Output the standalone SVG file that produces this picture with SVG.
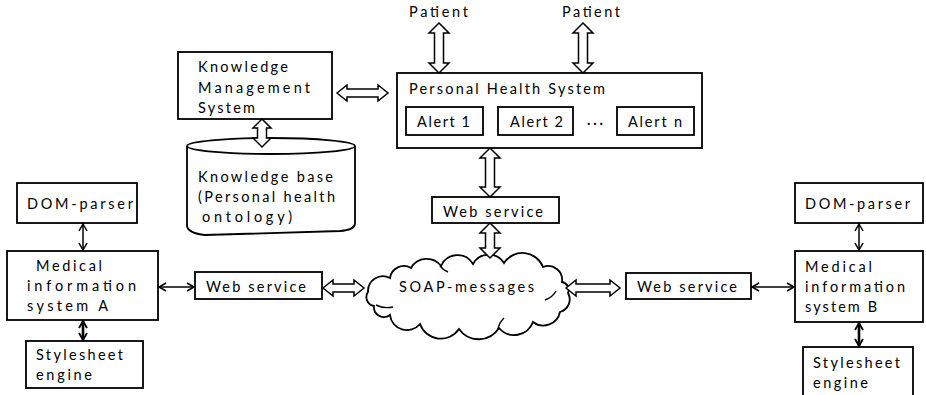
<svg xmlns="http://www.w3.org/2000/svg" width="926" height="395" viewBox="0 0 926 395">
  <style>
    .box { fill: #fff; stroke: #000; stroke-width: 1.8; }
    .txt { font-family: Lato, "Liberation Sans", sans-serif; font-size: 14.5px; fill: #000; }
    .hollow { fill: #fff; stroke: #000; stroke-width: 1.5; stroke-linejoin: miter; }
    .thin { fill: none; stroke: #000; stroke-width: 1.5; marker-start: url(#vhead); marker-end: url(#vhead); }
    .thick { fill: none; stroke: #000; stroke-width: 2.6; marker-start: url(#vhead2); marker-end: url(#vhead2); }
    .shape { fill: #fff; stroke: #000; stroke-width: 1.8; }
    .inner { fill: none; stroke: #000; stroke-width: 1.4; }
  </style>
  <defs>
    <marker id="vhead" markerWidth="10" markerHeight="10" refX="8" refY="5" orient="auto-start-reverse" markerUnits="userSpaceOnUse">
      <path d="M1,1 L8,5 L1,9" fill="none" stroke="#000" stroke-width="1.5"/>
    </marker>
    <marker id="vhead2" markerWidth="10" markerHeight="10" refX="8" refY="5" orient="auto-start-reverse" markerUnits="userSpaceOnUse">
      <path d="M1,1 L8,5 L1,9" fill="none" stroke="#000" stroke-width="1.8"/>
    </marker>
  </defs>

  <!-- patients -->
  <g id="patient1">
    <text class="txt" x="409" y="17" textLength="59" lengthAdjust="spacing">Patient</text>
  </g>
  <g id="patient2">
    <text class="txt" x="562" y="17" textLength="58" lengthAdjust="spacing">Patient</text>
  </g>

  <!-- knowledge management system -->
  <g id="kms">
    <rect class="box" x="178" y="52" width="154" height="67"/>
    <text class="txt" x="198" y="72" textLength="90" lengthAdjust="spacing">Knowledge</text>
    <text class="txt" x="198" y="93" textLength="112" lengthAdjust="spacing">Management</text>
    <text class="txt" x="198" y="113" textLength="57" lengthAdjust="spacing">System</text>
  </g>

  <!-- personal health system with alerts -->
  <g id="phs">
    <rect class="box" x="397" y="73" width="305" height="75"/>
    <text class="txt" x="409" y="94" textLength="196" lengthAdjust="spacing">Personal Health System</text>
    <rect class="box" x="406" y="107" width="77" height="28"/>
    <text class="txt" x="417" y="127" textLength="53" lengthAdjust="spacing">Alert 1</text>
    <rect class="box" x="498" y="107" width="75" height="28"/>
    <text class="txt" x="510" y="127" textLength="53" lengthAdjust="spacing">Alert 2</text>
    <text class="txt" x="587" y="125" textLength="16" lengthAdjust="spacing" font-weight="bold">...</text>
    <rect class="box" x="617" y="107" width="77" height="28"/>
    <text class="txt" x="628" y="127" textLength="54" lengthAdjust="spacing">Alert n</text>
  </g>

  <!-- knowledge base cylinder -->
  <g id="knowledge-base">
    <path class="shape" d="M187,146 L187,226 Q188,233 205,235 L340,231 Q354,230 355,224 L355,146"/>
    <ellipse class="shape" cx="271" cy="146" rx="84" ry="8"/>
    <text class="txt" x="198" y="182" textLength="135" lengthAdjust="spacing">Knowledge base</text>
    <text class="txt" x="198" y="202" textLength="137" lengthAdjust="spacing">(Personal health</text>
    <text class="txt" x="202" y="222" textLength="90" lengthAdjust="spacing">ontology)</text>
  </g>

  <!-- central web service -->
  <g id="ws-center">
    <rect class="box" x="432" y="197" width="127" height="26"/>
    <text class="txt" x="443" y="217" textLength="100" lengthAdjust="spacing">Web service</text>
  </g>

  <!-- SOAP cloud -->
  <g id="soap-cloud">
    <path class="shape" d="M368,292 A15,15 0 0 1 390,278 A14,14 0 0 1 411,268 A18,18 0 0 1 441,266 A18,18 0 0 1 473,264 A18,18 0 0 1 504,263 A22,22 0 0 1 543,267 A14,14 0 0 1 562,282 A8,8 0 0 1 568,293 A13,13 0 0 1 560,312 A17,17 0 0 1 533,322 A20,20 0 0 1 499,328 A24,24 0 0 1 459,329 A22,22 0 0 1 420,324 A17,17 0 0 1 390,315 A10,10 0 0 1 374,306 A9,9 0 0 1 368,292 Z"/>
    <path class="inner" d="M376,305 Q384,309 393,307"/>
    <path class="inner" d="M545,300 Q553,297 556,291"/>
    <path class="inner" d="M440,266 Q443,270 448,272"/>
    <path class="inner" d="M498,329 Q499,323 504,318"/>
    <text class="txt" x="399" y="292" textLength="135" lengthAdjust="spacing">SOAP-messages</text>
  </g>

  <!-- left side: system A -->
  <g id="dom-a">
    <rect class="box" x="17" y="183" width="120" height="40"/>
    <text class="txt" x="27" y="209" textLength="106" lengthAdjust="spacing">DOM-parser</text>
  </g>
  <g id="mis-a">
    <rect class="box" x="7" y="251" width="151" height="69"/>
    <text class="txt" x="36" y="271" textLength="66" lengthAdjust="spacing">Medical</text>
    <text class="txt" x="27" y="291" textLength="109" lengthAdjust="spacing">information</text>
    <text class="txt" x="27" y="311" textLength="81" lengthAdjust="spacing">system A</text>
  </g>
  <g id="ws-a">
    <rect class="box" x="195" y="272" width="127" height="27"/>
    <text class="txt" x="206" y="292" textLength="100" lengthAdjust="spacing">Web service</text>
  </g>
  <g id="style-a">
    <rect class="box" x="26" y="341" width="117" height="47"/>
    <text class="txt" x="36" y="360" textLength="87" lengthAdjust="spacing">Stylesheet</text>
    <text class="txt" x="36" y="380" textLength="56" lengthAdjust="spacing">engine</text>
  </g>

  <!-- right side: system B -->
  <g id="ws-b">
    <rect class="box" x="626" y="273" width="125" height="26"/>
    <text class="txt" x="637" y="292" textLength="100" lengthAdjust="spacing">Web service</text>
  </g>
  <g id="dom-b">
    <rect class="box" x="795" y="183" width="128" height="40"/>
    <text class="txt" x="805" y="209" textLength="105" lengthAdjust="spacing">DOM-parser</text>
  </g>
  <g id="mis-b">
    <rect class="box" x="795" y="251" width="128" height="71"/>
    <text class="txt" x="805" y="272" textLength="67" lengthAdjust="spacing">Medical</text>
    <text class="txt" x="805" y="292" textLength="100" lengthAdjust="spacing">information</text>
    <text class="txt" x="805" y="312" textLength="72" lengthAdjust="spacing">system B</text>
  </g>
  <g id="style-b">
    <rect class="box" x="803" y="347" width="110" height="60"/>
    <text class="txt" x="813" y="368" textLength="87" lengthAdjust="spacing">Stylesheet</text>
    <text class="txt" x="813" y="388" textLength="55" lengthAdjust="spacing">engine</text>
  </g>

  <!-- connectors -->
  <g id="connectors">
    <!-- hollow block double arrows (vertical) -->
    <polygon class="hollow" points="439,23 449,33 443.5,33 443.5,63 449,63 439,73 429,63 434.5,63 434.5,33 429,33"/>
    <polygon class="hollow" points="583,23 593,33 587.5,33 587.5,63 593,63 583,73 573,63 578.5,63 578.5,33 573,33"/>
    <polygon class="hollow" points="262,119 271,128 266.5,128 266.5,138 271,138 262,147 253,138 257.5,138 257.5,128 253,128"/>
    <polygon class="hollow" points="490,148 500,158 494.5,158 494.5,187 500,187 490,197 480,187 485.5,187 485.5,158 480,158"/>
    <polygon class="hollow" points="490,223 500,233 494.5,233 494.5,248 500,248 490,258 480,248 485.5,248 485.5,233 480,233"/>
    <!-- hollow block double arrows (horizontal) -->
    <polygon class="hollow" points="337,93 347,85 347,89 378,89 378,85 388,93 378,101 378,97 347,97 347,101"/>
    <polygon class="hollow" points="323,288 333,280 333,284 354,284 354,280 364,288 354,296 354,292 333,292 333,296"/>
    <polygon class="hollow" points="566,288 576,280 576,284 610,284 610,280 620,288 610,296 610,292 576,292 576,296"/>
    <!-- thin double arrows -->
    <line class="thin" x1="83" y1="224" x2="83" y2="250"/>
    <line class="thin" x1="159" y1="287" x2="194" y2="287"/>
    <line class="thick" x1="83" y1="321" x2="83" y2="340"/>
    <line class="thin" x1="859" y1="224" x2="859" y2="250"/>
    <line class="thin" x1="752" y1="287" x2="794" y2="287"/>
    <line class="thick" x1="859" y1="323" x2="859" y2="346"/>
  </g>
</svg>
